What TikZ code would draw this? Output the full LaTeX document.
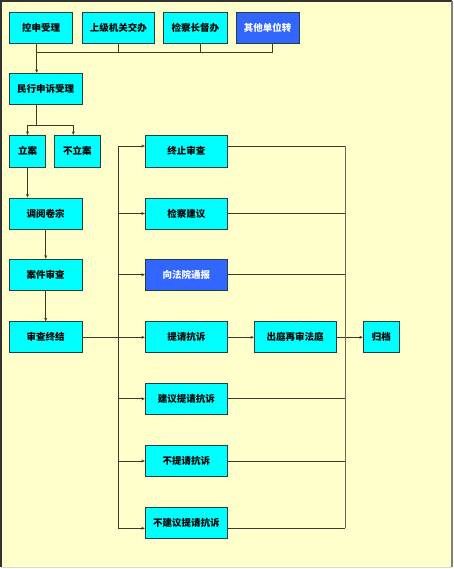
\documentclass[tikz,border=0pt]{standalone}
\usepackage{fontspec}
\newfontfamily\cjk{Noto Sans CJK SC}
\usetikzlibrary{arrows.meta,calc}
\definecolor{bg}{HTML}{FFFFCC}
\definecolor{cy}{HTML}{00FFFF}
\definecolor{bl}{HTML}{3366FF}
\definecolor{edge}{HTML}{1F3F3F}
\definecolor{ln}{HTML}{3A3A2A}
\definecolor{vln}{HTML}{6A6A55}
\tikzset{
  box/.style={draw=edge, line width=0.9pt, fill=cy, inner sep=0pt, minimum height=31pt,
    font=\cjk\bfseries\fontsize{9.5}{10}\selectfont, text=black},
  bbox/.style={box, fill=bl, text=white},
  conn/.style={draw=ln, line width=0.8pt},
  vconn/.style={draw=vln, line width=1pt},
  arr/.style={conn, -{Stealth[length=3.5pt,width=3pt]}}
}
\begin{document}
\begin{tikzpicture}[x=1pt,y=-1pt]
\useasboundingbox (0,0) rectangle (454,569);
\fill[white] (0,0) rectangle (454,569);
\fill[bg] (1,1) rectangle (452,567);
\draw[line width=1.2pt, color=black!80] (1,567) -- (1,1) -- (452,1);
\draw[line width=1.2pt, color=gray] (452,1) -- (452,567);
\draw[line width=1pt, color=black!15] (1,567.5) -- (452,567.5);

% top row
\node[box, minimum width=63.4pt, minimum height=30.6pt] (k1) at (41,28) {控申受理};
\node[box, minimum width=72.7pt, minimum height=30.6pt] (k2) at (118.3,28) {上级机关交办};
\node[box, minimum width=64pt, minimum height=30.6pt] (k3) at (195.3,28) {检察长督办};
\node[bbox, minimum width=63.3pt, minimum height=30.6pt] (k4) at (267.7,28) {其他单位转};

\node[box, minimum width=72.7pt] (mx) at (45.7,88.8) {民行申诉受理};
\node[box, minimum width=36.4pt, minimum height=32pt] (la) at (27.5,151.3) {立案};
\node[box, minimum width=45.3pt, minimum height=32pt] (bla) at (77.3,151.3) {不立案};
\node[box, minimum width=72.7pt] (dy) at (45.7,213.5) {调阅卷宗};
\node[box, minimum width=72.7pt] (aj) at (45.7,274.7) {案件审查};
\node[box, minimum width=72.7pt] (zj) at (45.7,337.3) {审查终结};

% right column
\node[box, minimum width=82pt, minimum height=32pt] (zz) at (186.3,151.3) {终止审查};
\node[box, minimum width=82pt] (jj) at (186.3,213.5) {检察建议};
\node[bbox, minimum width=82pt] (xf) at (186.3,274.7) {向法院通报};
\node[box, minimum width=82pt] (tq) at (186.3,337.3) {提请抗诉};
\node[box, minimum width=82pt] (jy) at (186.3,398.8) {建议提请抗诉};
\node[box, minimum width=82pt] (bt) at (186.3,461) {不提请抗诉};
\node[box, minimum width=82pt] (bj) at (186.3,523.2) {不建议提请抗诉};
\node[box, minimum width=81.7pt] (cz) at (295.2,337.3) {出庭再审法庭};
\node[box, minimum width=36pt] (gd) at (381.3,337.3) {归档};

% helper coordinates
\coordinate (bus) at (0,52.7);
\coordinate (split) at (0,125.3);
\coordinate (lb) at (118.3,0);
\coordinate (rb) at (345,0);
\coordinate (d1) at ([xshift=-4.3pt]k1.south);
\coordinate (d3) at ([xshift=4.7pt]k3.south);
\coordinate (d4) at ([xshift=5pt]k4.south);
\coordinate (dm) at ([xshift=-9pt]mx.south);
\coordinate (db) at ([xshift=-4pt]bla.north);

% top connectors
\draw[conn] (d1) -- (d1 |- bus) -- (d4 |- bus) -- (d4);
\draw[conn] (k2.south) -- (k2.south |- bus);
\draw[conn] (d3) -- (d3 |- bus);
\draw[arr] (d1 |- bus) -- (d1 |- mx.north);

% split
\draw[conn] (dm) -- (dm |- split);
\draw[arr] (dm |- split) -| (la.north);
\draw[arr] (dm |- split) -| (db);

% left chain
\draw[arr] (la.south) -- (la.south |- dy.north);
\draw[arr] (dy.south) -- (aj.north);
\draw[arr] (aj.south) -- (zj.north);
\draw[arr] (zj.east) -- (tq.west);

% right-column fan
\coordinate (rzz) at ([yshift=5.3pt]zz.west);
\coordinate (rbj) at ([yshift=-5.1pt]bj.west);
\coordinate (ezz) at ([yshift=5.3pt]zz.east);
\coordinate (ebj) at ([yshift=-5.1pt]bj.east);
\draw[arr] (lb |- rzz) -- (rzz);
\draw[arr] (lb |- jj.west) -- (jj.west);
\draw[arr] (lb |- xf.west) -- (xf.west);
\draw[arr] (lb |- jy.west) -- (jy.west);
\draw[arr] (lb |- bt.west) -- (bt.west);
\draw[arr] (lb |- rbj) -- (rbj);
\draw[conn] (ezz) -- (rb |- ezz);
\draw[conn] (jj.east) -- (rb |- jj.east);
\draw[conn] (xf.east) -- (rb |- xf.east);
\draw[conn] (jy.east) -- (rb |- jy.east);
\draw[conn] (bt.east) -- (rb |- bt.east);
\draw[conn] (ebj) -- (rb |- ebj);
\draw[arr] (tq.east) -- (cz.west);
\draw[arr] (cz.east) -- (gd.west);
\draw[conn] (lb |- rzz) -- (lb |- rbj);
\draw[vconn] (rb |- ezz) -- (rb |- ebj);
\end{tikzpicture}
\end{document}
